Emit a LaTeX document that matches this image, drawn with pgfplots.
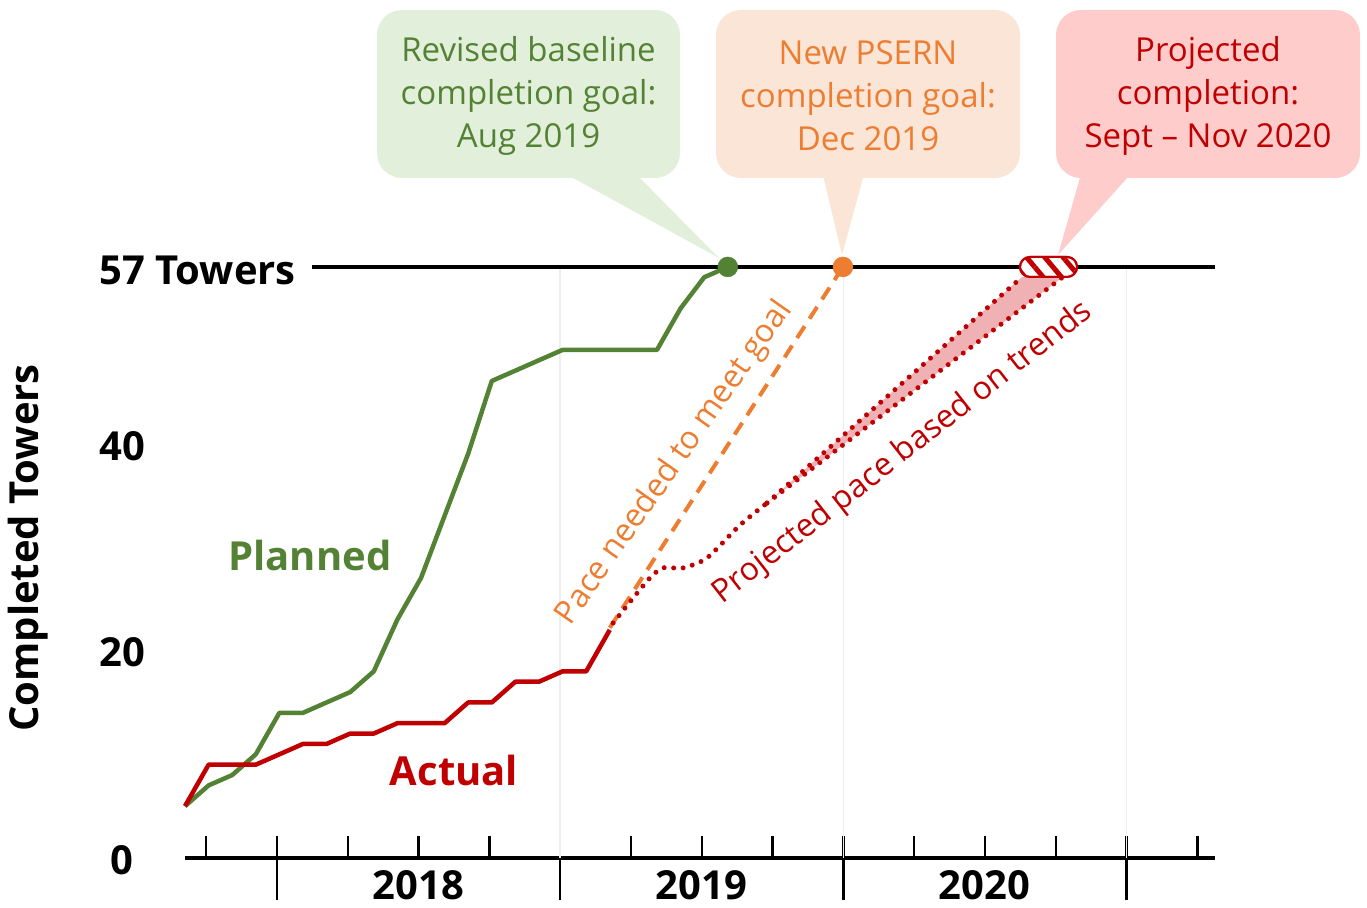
\documentclass[border=0pt]{standalone}
\usepackage{pgfplots}
\pgfplotsset{compat=1.18}
\usepackage{fontspec}
\setmainfont{Open Sans}
\usetikzlibrary{patterns.meta}
\definecolor{pgreen}{HTML}{548235}
\definecolor{gfill}{HTML}{E2EFDA}
\definecolor{porange}{HTML}{ED7D31}
\definecolor{ofill}{HTML}{FBE5D6}
\definecolor{pred}{HTML}{C00000}
\definecolor{rfill}{HTML}{FFCCCC}
\definecolor{band}{HTML}{EFB1B4}
\definecolor{gridc}{HTML}{EEEEEE}
\begin{document}
\begin{tikzpicture}[x=1pt,y=1pt]
\useasboundingbox (0,0) rectangle (1367,907);
\begin{axis}[
  at={(185pt,49pt)}, anchor=south west,
  scale only axis, width=1030pt, height=858pt,
  xmin=0, xmax=43.644, ymin=0, ymax=82.74,
  clip=false,
  axis y line=none, axis x line=bottom,
  x axis line style={-, line width=3.5pt, black},
  xtick={0.9,3.9,6.9,9.9,12.9,15.9,18.9,21.9,24.9,27.9,30.9,33.9,36.9,39.9,42.9},
  xticklabels={},
  tick align=inside, major tick length=22pt,
  tick style={line width=2.5pt, black},
  extra x ticks={3.9,15.9,27.9,39.9},
  extra x tick labels={},
  extra x tick style={tick align=outside, major tick length=42pt},
]
% year grid lines
\addplot[gridc, line width=1.5pt] coordinates {(15.9,0) (15.9,57)};
\addplot[gridc, line width=1.5pt] coordinates {(27.9,0) (27.9,57)};
\addplot[gridc, line width=1.5pt] coordinates {(39.9,0) (39.9,57)};
% 57 towers line
\addplot[black, line width=3.5pt] coordinates {(5.38,57) (43.644,57)};
% projection band
\addplot[fill=band, draw=none] coordinates {(24.66,34.23) (35.47,56.03) (37.2,56.03)} -- cycle;
% planned
\addplot[pgreen, line width=4.5pt, line join=round] table {
0 5
1 7
2 8
3 10
4 14
5 14
6 15
7 16
8 18
9 23
10 27
11 33
12 39
13 46
14 47
15 48
16 49
17 49
18 49
19 49
20 49
21 53
22 56
23 57
};
% actual
\addplot[pred, line width=4.5pt, line join=round] table {
0 5
1 9
2 9
3 9
4 10
5 11
6 11
7 12
8 12
9 13
10 13
11 13
12 15
13 15
14 17
15 17
16 18
17 18
18 22
};
% pace needed
\addplot[porange, line width=4pt, dash pattern=on 14pt off 9pt] coordinates {(18.0,22.2) (27.88,57)};
% projected pace
\addplot[pred, line width=5pt, dash pattern=on 0pt off 9.5pt, line cap=round, smooth, tension=0.4] coordinates {
(18.14,22.66) (19.62,26.81) (20.25,27.97) (21.10,27.97) (22.12,28.93) (23.52,32.11) (24.66,34.23)};
\addplot[pred, line width=5pt, dash pattern=on 0pt off 9.5pt, line cap=round] coordinates {(24.66,34.23) (35.47,56.03)};
\addplot[pred, line width=5pt, dash pattern=on 0pt off 9.5pt, line cap=round] coordinates {(24.66,34.23) (37.2,56.03)};
% goal dots
\addplot[only marks, mark=*, mark size=10pt, pgreen, mark options={draw=pgreen, fill=pgreen}] coordinates {(23,57)};
\addplot[only marks, mark=*, mark size=10pt, porange, mark options={draw=porange, fill=porange}] coordinates {(27.88,57)};
% projected completion capsule
\addplot[fill=white, draw=pred, line width=2pt, rounded corners=10pt,
  postaction={pattern={Lines[angle=-50,distance=14pt,line width=5pt]}, pattern color=pred}]
  coordinates {(35.38,56.03) (37.8,56.03) (37.8,57.96) (35.38,57.96)} -- cycle;
\end{axis}
% callouts
\fill[gfill, rounded corners=25pt] (377,729) rectangle (680,897);
\fill[gfill] (553,740) -- (629,740) -- (719,649) -- cycle;
\node[pgreen, align=center, font=\fontsize{33}{43}\selectfont] at (528.5,811) {Revised baseline\\completion goal:\\Aug 2019};
\fill[ofill, rounded corners=25pt] (716,729) rectangle (1020,897);
\fill[ofill] (821,740) -- (866,740) -- (842,652) -- cycle;
\node[porange, align=center, font=\fontsize{33}{43}\selectfont] at (868,811) {New PSERN\\completion goal:\\Dec 2019};
\fill[rfill, rounded corners=25pt] (1056,729) rectangle (1360,897);
\fill[rfill] (1083,740) -- (1137,740) -- (1058,652) -- cycle;
\node[pred, align=center, font=\fontsize{33}{43}\selectfont] at (1208,811) {Projected\\completion:\\Sept -- Nov 2020};
% labels
\begin{scope}[every node/.style={font=\bfseries\fontsize{40}{44}\selectfont}]
\node[anchor=west] at (96,637) {57 Towers};
\node at (122,461) {40};
\node at (122,255) {20};
\node at (122,47) {0};
\node[rotate=90] at (28,359) {Completed Towers};
\node[pgreen] at (310,351) {Planned};
\node[pred] at (454,136) {Actual};
\node at (418.5,22) {2018};
\node at (701.5,22) {2019};
\node at (984.5,22) {2020};
\end{scope}
\node[porange, rotate=55, font=\fontsize{32}{38}\selectfont] at (675,444) {Pace needed to meet goal};
\node[pred, rotate=38, font=\fontsize{32}{38}\selectfont] at (903,454) {Projected pace based on trends};
\end{tikzpicture}
\end{document}
